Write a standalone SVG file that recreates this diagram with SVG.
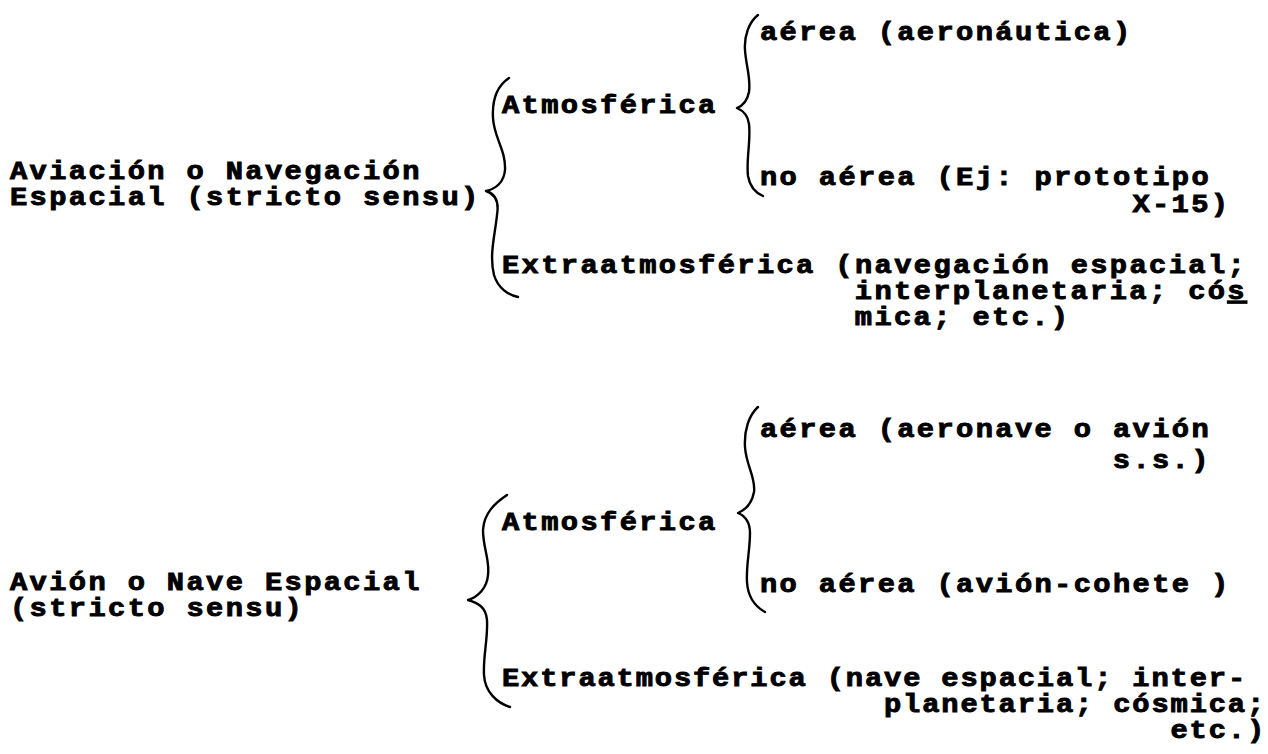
<svg xmlns="http://www.w3.org/2000/svg" width="1268" height="754" viewBox="0 0 1268 754">
<style>
  text { font-family: "Liberation Mono", "DejaVu Sans Mono", monospace; font-weight: bold; font-size: 25px; letter-spacing: 2.05px; fill: #000; stroke: #000; stroke-width: 0.9px; }
  .tight { letter-spacing: 1.61px; }
  .brace { fill: none; stroke: #000; stroke-width: 2.4; stroke-linecap: round; stroke-linejoin: round; }
</style>
<rect width="1268" height="754" fill="#fff"/>
<g id="connectors">
  <path class="brace" d="M509,78 C497,86 492,100 493,118 C494,138 506,150 505,170 C504,182 496,189 486,191 C496,194 499,203 497,215 C495,235 489,255 494,275 C498,288 508,295 518,297"/>
  <path class="brace" d="M758,15 C749,22 744,36 745,50 C746,66 751,78 749,92 C747,102 742,106 737,108 C744,111 748,116 749,124 C751,140 746,160 748,176 C750,188 756,193 763,196"/>
  <path class="brace" d="M507,495 C495,503 484,513 483,530 C483,548 490,560 488,575 C487,588 478,597 468,600 C478,603 486,607 487,620 C488,640 483,655 484,675 C485,692 497,703 510,707"/>
  <path class="brace" d="M758,407 C749,415 744,430 745,447 C746,465 756,478 754,492 C752,503 745,510 738,513 C745,516 750,521 750,533 C750,550 746,566 747,582 C748,598 756,607 765,612"/>
</g>
<g id="node-aviacion" transform="scale(1.15 1)">
  <text x="8.70" y="179">Aviación o Navegación</text>
  <text x="8.70" y="205">Espacial (stricto sensu)</text>
</g>
<g id="node-atmosferica-1" transform="scale(1.15 1)">
  <text x="436.52" y="113">Atmosférica</text>
</g>
<g id="node-aerea-1" transform="scale(1.15 1)">
  <text x="660.87" y="40">aérea (aeronáutica)</text>
</g>
<g id="node-no-aerea-1" transform="scale(1.15 1)">
  <text x="660.87" y="185">no aérea (Ej: prototipo</text>
  <text x="984.70" y="212">X-15)</text>
</g>
<g id="node-extra-1" transform="scale(1.15 1)">
  <text x="436.52" y="273">Extraatmosférica (navegación espacial;</text>
  <text x="743.30" y="299">interplanetaria; có<tspan text-decoration="underline">s</tspan></text>
  <text x="743.30" y="325">mica; etc.)</text>
</g>
<g id="node-avion" transform="scale(1.15 1)">
  <text x="8.70" y="590">Avión o Nave Espacial</text>
  <text x="8.70" y="616">(stricto sensu)</text>
</g>
<g id="node-atmosferica-2" transform="scale(1.15 1)">
  <text x="436.52" y="530">Atmosférica</text>
</g>
<g id="node-aerea-2" transform="scale(1.15 1)">
  <text x="660.87" y="437">aérea (aeronave o avión</text>
  <text x="967.65" y="468">s.s.)</text>
</g>
<g id="node-no-aerea-2" transform="scale(1.15 1)">
  <text x="660.87" y="592">no aérea (avión-cohete )</text>
</g>
<g id="node-extra-2" transform="scale(1.15 1)">
  <text class="tight" x="436.52" y="686">Extraatmosférica (nave espacial; inter-</text>
  <text class="tight" x="768.70" y="712">planetaria; cósmica;</text>
  <text class="tight" x="1017.83" y="738">etc.)</text>
</g>
</svg>
